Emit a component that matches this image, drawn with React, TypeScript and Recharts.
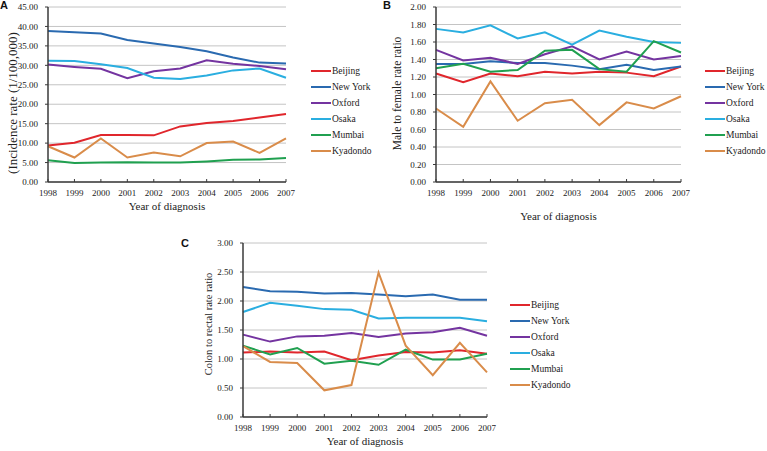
import React from 'react';
import { LineChart, Line, XAxis, YAxis, CartesianGrid, Legend } from 'recharts';

const years = ['1998', '1999', '2000', '2001', '2002', '2003', '2004', '2005', '2006', '2007'];
const seriesNames = ['Beijing', 'New York', 'Oxford', 'Osaka', 'Mumbai', 'Kyadondo'];
const seriesColors = ['#e0262c', '#2a6ab0', '#7434a0', '#2aaee0', '#20a050', '#d98c4a'];

// Panel A: incidence rate (1/100,000)
const incBeijing = [9.4, 10.1, 12.1, 12.1, 12.0, 14.3, 15.2, 15.7, 16.6, 17.5];
const incNewYork = [38.8, 38.5, 38.2, 36.5, 35.6, 34.7, 33.6, 32.0, 30.7, 30.5];
const incOxford = [30.2, 29.6, 29.1, 26.7, 28.5, 29.2, 31.3, 30.4, 29.8, 29.0];
const incOsaka = [31.2, 31.1, 30.3, 29.3, 26.8, 26.5, 27.4, 28.7, 29.2, 26.8];
const incMumbai = [5.6, 4.9, 5.0, 5.1, 5.0, 5.0, 5.3, 5.7, 5.8, 6.2];
const incKyadondo = [9.2, 6.3, 11.2, 6.3, 7.6, 6.6, 10.0, 10.4, 7.5, 11.2];

// Panel B: male to female rate ratio
const mfBeijing = [1.24, 1.14, 1.24, 1.21, 1.26, 1.24, 1.26, 1.25, 1.21, 1.32];
const mfNewYork = [1.35, 1.35, 1.38, 1.36, 1.36, 1.33, 1.29, 1.34, 1.28, 1.32];
const mfOxford = [1.51, 1.39, 1.42, 1.35, 1.46, 1.55, 1.40, 1.49, 1.40, 1.44];
const mfOsaka = [1.75, 1.71, 1.79, 1.64, 1.71, 1.57, 1.73, 1.66, 1.60, 1.59];
const mfMumbai = [1.30, 1.35, 1.26, 1.28, 1.50, 1.51, 1.29, 1.26, 1.61, 1.48];
const mfKyadondo = [0.84, 0.63, 1.15, 0.70, 0.90, 0.94, 0.65, 0.91, 0.84, 0.98];

// Panel C: colon to rectal rate ratio
const crBeijing = [1.11, 1.13, 1.11, 1.13, 0.98, 1.06, 1.12, 1.11, 1.15, 1.09];
const crNewYork = [2.24, 2.17, 2.16, 2.13, 2.14, 2.11, 2.08, 2.11, 2.02, 2.02];
const crOxford = [1.42, 1.30, 1.39, 1.40, 1.45, 1.38, 1.44, 1.46, 1.54, 1.40];
const crOsaka = [1.81, 1.97, 1.92, 1.86, 1.85, 1.70, 1.71, 1.71, 1.71, 1.65];
const crMumbai = [1.23, 1.08, 1.19, 0.92, 0.97, 0.90, 1.16, 0.99, 0.99, 1.09];
const crKyadondo = [1.22, 0.95, 0.93, 0.46, 0.55, 2.49, 1.23, 0.72, 1.28, 0.77];

const ticksA = [0, 5, 10, 15, 20, 25, 30, 35, 40, 45];
const ticksB = [0, 0.2, 0.4, 0.6, 0.8, 1.0, 1.2, 1.4, 1.6, 1.8, 2.0];
const ticksC = [0, 0.5, 1.0, 1.5, 2.0, 2.5, 3.0];

function buildRows(values: number[][]) {
  return years.map((y, i) => {
    const row: any = { year: y };
    seriesNames.forEach((n, j) => {
      row[n] = values[j][i];
    });
    return row;
  });
}

const dataA = buildRows([incBeijing, incNewYork, incOxford, incOsaka, incMumbai, incKyadondo]);
const dataB = buildRows([mfBeijing, mfNewYork, mfOxford, mfOsaka, mfMumbai, mfKyadondo]);
const dataC = buildRows([crBeijing, crNewYork, crOxford, crOsaka, crMumbai, crKyadondo]);

const SERIF = '"Liberation Serif", "Times New Roman", serif';
const AXIS = '#3a3a3a';

const LegendContent = (props: any) => {
  const payload = props.payload || [];
  const byName: Record<string, any> = {};
  payload.forEach((p: any) => {
    byName[p.value] = p;
  });
  return (
    <div style={{ fontFamily: SERIF, fontSize: 9.5, color: '#222' }}>
      {seriesNames.map((n, i) => (
        <div key={n} style={{ display: 'flex', alignItems: 'center', height: 16 }}>
          <span
            style={{
              display: 'inline-block',
              width: 20,
              height: 2,
              background: (byName[n] && byName[n].color) || seriesColors[i],
            }}
          />
          <span style={{ marginLeft: 1, lineHeight: '16px', whiteSpace: 'nowrap' }}>{n}</span>
        </div>
      ))}
    </div>
  );
};

type PanelProps = {
  data: any[];
  ticks: number[];
  left: number;
  top: number;
  width: number;
  height: number;
  yAxisWidth: number;
  marginRight: number;
  xAxisHeight: number;
  yLabel: string;
  yLabelX: number;
  yLabelY: number;
  yLabelSize: number;
  xLabelDy: number;
  legendLeft: number;
  legendTop: number;
};

function Panel(p: PanelProps) {
  const maxV = p.ticks[p.ticks.length - 1];
  return (
    <div style={{ position: 'absolute', left: p.left, top: p.top, width: p.width, height: p.height }}>
      <LineChart
        width={p.width}
        height={p.height}
        data={p.data}
        margin={{ top: 7, right: p.marginRight, bottom: 0, left: 0 }}
        style={{ fontFamily: SERIF }}
      >
        <CartesianGrid vertical={false} stroke="#c4c4c4" strokeWidth={1} />
        <XAxis
          dataKey="year"
          interval={0}
          height={p.xAxisHeight}
          tickSize={-3}
          tickMargin={11}
          axisLine={{ stroke: AXIS, strokeWidth: 1.5 }}
          tickLine={{ stroke: AXIS, strokeWidth: 1 }}
          tick={{ fontSize: 9, fill: '#222', fontFamily: SERIF }}
          label={{
            content: (lp: any) => {
              const vb = lp.viewBox || {};
              return (
                <text
                  x={vb.x + vb.width / 2}
                  y={vb.y + p.xLabelDy}
                  textAnchor="middle"
                  fontSize={11}
                  fontFamily={SERIF}
                  fill="#222"
                >
                  Year of diagnosis
                </text>
              );
            },
          }}
        />
        <YAxis
          type="number"
          domain={[0, maxV]}
          ticks={p.ticks}
          interval={0}
          width={p.yAxisWidth}
          tickSize={3}
          tickMargin={7}
          tickFormatter={(v: number) => v.toFixed(2)}
          axisLine={{ stroke: AXIS, strokeWidth: 1.5 }}
          tickLine={{ stroke: AXIS, strokeWidth: 1 }}
          tick={{ fontSize: 9, fill: '#222', fontFamily: SERIF }}
          label={{
            content: () => (
              <text
                x={p.yLabelX}
                y={p.yLabelY}
                transform={`rotate(-90 ${p.yLabelX} ${p.yLabelY})`}
                textAnchor="middle"
                dominantBaseline="central"
                fontSize={p.yLabelSize}
                fontFamily={SERIF}
                fill="#222"
              >
                {p.yLabel}
              </text>
            ),
          }}
        />
        <Legend
          layout="vertical"
          align="center"
          verticalAlign="middle"
          content={LegendContent}
          wrapperStyle={{ left: p.legendLeft, top: p.legendTop, width: 80, height: 96 }}
        />
        {seriesNames.map((n, i) => (
          <Line
            key={n}
            type="linear"
            dataKey={n}
            stroke={seriesColors[i]}
            strokeWidth={2}
            dot={false}
            activeDot={false}
            isAnimationActive={false}
          />
        ))}
      </LineChart>
    </div>
  );
}

const letterStyle: React.CSSProperties = {
  position: 'absolute',
  fontFamily: '"Liberation Sans", Arial, sans-serif',
  fontWeight: 'bold',
  fontSize: 11,
  lineHeight: '11px',
  color: '#111',
};

export default function App() {
  return (
    <div style={{ position: 'absolute', left: 0, top: 0, width: 767, height: 451, background: '#fff', overflow: 'hidden' }}>
      <Panel
        data={dataA}
        ticks={ticksA}
        left={0}
        top={0}
        width={380}
        height={215}
        yAxisWidth={48}
        marginRight={94}
        xAxisHeight={33}
        yLabel="(Incidence rate (1/100,000)"
        yLabelX={12}
        yLabelY={103}
        yLabelSize={13}
        xLabelDy={27.5}
        legendLeft={311}
        legendTop={62.7}
      />
      <Panel
        data={dataB}
        ticks={ticksB}
        left={380}
        top={0}
        width={387}
        height={225}
        yAxisWidth={56}
        marginRight={86}
        xAxisHeight={43}
        yLabel="Male to female rate ratio"
        yLabelX={17}
        yLabelY={93.5}
        yLabelSize={11.5}
        xLabelDy={37.5}
        legendLeft={325}
        legendTop={62.7}
      />
      <Panel
        data={dataC}
        ticks={ticksC}
        left={180}
        top={236}
        width={380}
        height={215}
        yAxisWidth={63}
        marginRight={73}
        xAxisHeight={34}
        yLabel="Colon to rectal rate ratio"
        yLabelX={28}
        yLabelY={88}
        yLabelSize={10.5}
        xLabelDy={27.5}
        legendLeft={330}
        legendTop={61.3}
      />
      <div style={{ ...letterStyle, left: 0, top: 0 }}>A</div>
      <div style={{ ...letterStyle, left: 383, top: 0 }}>B</div>
      <div style={{ ...letterStyle, left: 181, top: 238 }}>C</div>
    </div>
  );
}
